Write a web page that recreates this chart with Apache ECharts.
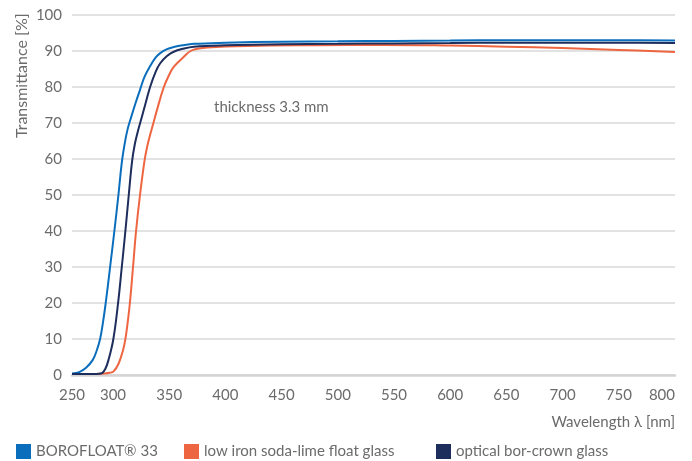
<!DOCTYPE html>
<html>
<head>
<meta charset="utf-8">
<script src="https://cdn.jsdelivr.net/npm/echarts@6/dist/echarts.min.js"></script>
<style>
html,body{margin:0;padding:0;background:#fff;}
#chart{width:692px;height:461px;}
</style>
</head>
<body>
<div id="chart"></div>
<script>
// ---- data ----
const seriesNames = ['BOROFLOAT® 33', 'low iron soda-lime float glass', 'optical bor-crown glass'];
const seriesColors = ['#0a6ebd', '#ee6541', '#1d2d5c'];

const borofloatNm = [263.5,270,276,282,285.5,288.5,291,293.5,297.4,301.2,304.8,307.8,310.5,313,316,320,324,328,333,338,342,348,354,362,372,400,450,500,550,600,650,700,750,800];
const borofloatT  = [0.4,0.8,2,4.2,6.8,10,14.5,20,30,40,50,59,64.5,68.3,71.5,75.5,79.2,82.8,85.8,88.2,89.4,90.5,91.1,91.6,92,92.3,92.6,92.7,92.8,92.9,93,93,93,92.9];

const sodaLimeNm = [263.5,285,292,297,300.5,305,309,311,313,315,317.8,320.5,324,328,330.5,333,335.5,339,345,350,354,363,369,375,384,420,480,540,600,650,700,750,800];
const sodaLimeT  = [0.3,0.3,0.4,0.6,1,3.2,7,10,14.5,20,30,40,50,59.5,63.6,66.7,69.5,73.5,79.8,83.4,85.6,88.4,90,90.6,91,91.4,91.6,91.7,91.5,91.2,90.8,90.3,89.7];

const borCrownNm = [263.5,285,290,293,296,300.3,304.5,307.8,311,314,317,319.5,322,324.5,327.5,333,338,342,348,354,362,372,400,450,500,550,600,650,700,750,800];
const borCrownT  = [0.3,0.3,0.5,1.6,4.2,10,20,30,40,50,59.5,64.3,67.6,70.4,73.8,80,84.3,86.6,88.6,89.8,90.6,91.2,91.6,91.9,92,92.1,92.2,92.3,92.3,92.3,92.2];

const xTickValues = [263.5,300,350,400,450,500,550,600,650,700,750,800];
const xTickLabels = ['250','300','350','400','450','500','550','600','650','700','750','800'];
const yMin = 0, yMax = 100, yStep = 10;

// ---- chart ----
const zip = (a, b) => a.map((x, i) => [x, b[i]]);
const FONT = 'Lato';
const TXT = '#6b6b6b';

const chart = echarts.init(document.getElementById('chart'), null, {renderer: 'canvas'});
const seriesData = [zip(borofloatNm, borofloatT), zip(sodaLimeNm, sodaLimeT), zip(borCrownNm, borCrownT)];
const drawOrder = [1, 0, 2];

chart.setOption({
  backgroundColor: '#fff',
  animation: false,
  textStyle: {fontFamily: FONT, color: TXT},
  grid: {left: 72, right: 17, top: 15, bottom: 86},
  xAxis: {
    type: 'value',
    min: xTickValues[0],
    max: xTickValues[xTickValues.length - 1],
    axisLine: {show: true, onZero: true, lineStyle: {color: '#d4d4d4', width: 2.5}},
    axisTick: {show: false},
    splitLine: {show: false},
    axisLabel: {
      customValues: xTickValues,
      formatter: v => { const i = xTickValues.indexOf(v); return i >= 0 ? xTickLabels[i] : ''; },
      color: TXT, fontFamily: FONT, fontSize: 15, margin: 13,
      alignMaxLabel: 'right'
    }
  },
  yAxis: {
    type: 'value', min: yMin, max: yMax, interval: yStep,
    axisLine: {show: false},
    axisTick: {show: false},
    splitLine: {show: true, lineStyle: {color: '#d9d9d9', width: 1.5}},
    axisLabel: {color: TXT, fontFamily: FONT, fontSize: 15, margin: 10}
  },
  legend: seriesNames.map((n, i) => ({
    data: [n],
    left: [11, 179, 431][i],
    top: 439,
    icon: 'rect',
    itemWidth: 15, itemHeight: 15,
    itemGap: 0,
    textStyle: {color: TXT, fontFamily: FONT, fontSize: 15}
  })),
  series: drawOrder.map(i => ({
    name: seriesNames[i],
    type: 'line',
    data: seriesData[i],
    smooth: 0.4,
    showSymbol: false,
    symbol: 'none',
    color: seriesColors[i],
    lineStyle: {color: seriesColors[i], width: 2}
  })),
  graphic: [
    {type: 'text', left: 214, top: 100,
      style: {text: 'thickness 3.3 mm', fill: TXT, font: '15px ' + FONT}},
    {type: 'text', right: 17, top: 415,
      style: {text: 'Wavelength λ [nm]', fill: TXT, font: '15px ' + FONT}},
    {type: 'text', x: 14, y: 138, rotation: Math.PI / 2,
      style: {text: 'Transmittance [%]', fill: TXT, font: '16px ' + FONT}}
  ]
});
</script>
</body>
</html>
